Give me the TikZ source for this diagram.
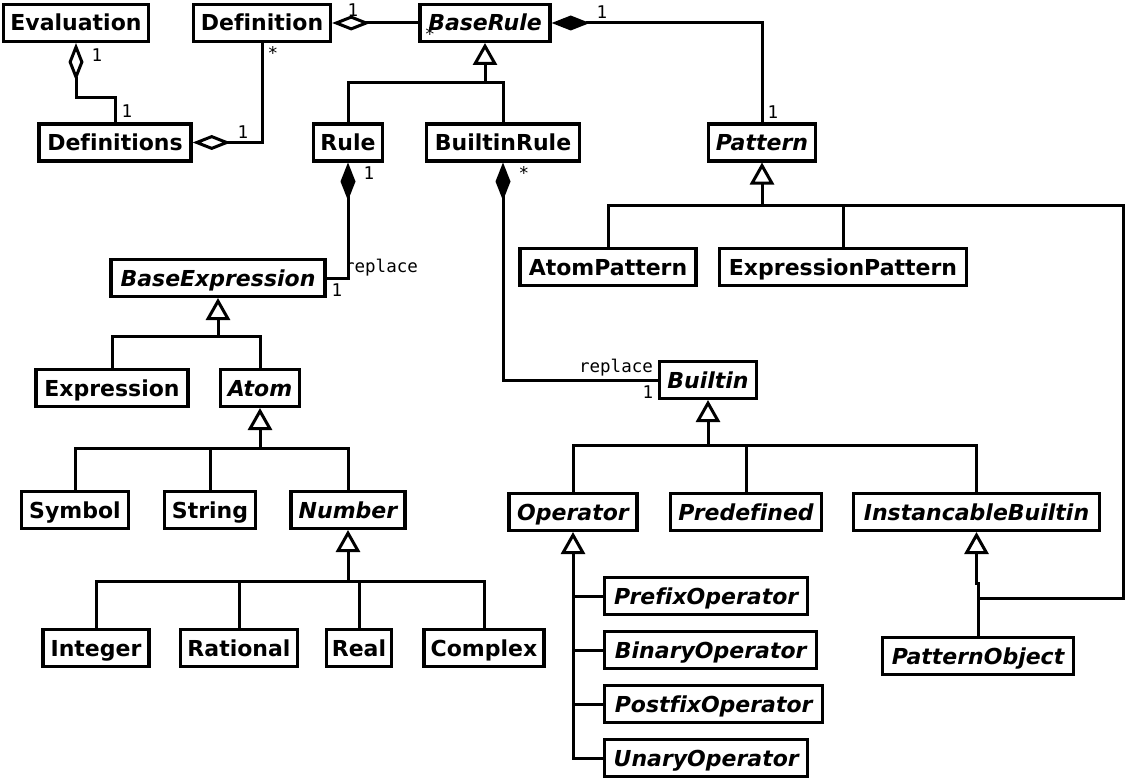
\documentclass[tikz,border=0pt]{standalone}
\usepackage{fontspec}
\setmainfont{DejaVu Sans}[Ligatures=CommonOff]
\newfontfamily\lblmono{DejaVu Sans Mono}
\usetikzlibrary{arrows.meta}
\newcommand\clsfont{\fontsize{22}{26}\selectfont\bfseries}
\newcommand\aclsfont{\fontsize{22}{26}\selectfont\bfseries\itshape}
\newcommand\lblfont{\fontsize{17.5}{19}\selectfont\lblmono}
\tikzset{
  cls/.style={draw, line width=3.4pt, font=\clsfont, inner xsep=3pt, inner ysep=0pt,
    minimum height=36.6pt, text height=16pt, text depth=0pt},
  acls/.style={cls, font=\aclsfont},
  conn/.style={line width=3pt},
  gen/.style={conn, -{Triangle[open, length=22pt, width=24pt]}},
  agg/.style={conn, -{Diamond[open, length=38pt, width=15pt]}},
  comp/.style={conn, -{Diamond[length=38pt, width=15pt]}},
  lbl/.style={font=\lblfont, inner sep=0pt},
}
\begin{document}
\begin{tikzpicture}[x=1pt, y=-1pt]
\useasboundingbox (0,0) rectangle (1127,781);
% classes
\node[cls, minimum width=145pt] (eval) at (76,23) {Evaluation};
\node[cls, minimum width=137pt] (def) at (262,23) {Definition};
\node[acls, minimum width=130pt] (brule) at (485,23) {BaseRule};
\node[cls, minimum width=152pt] (defs) at (115,142.5) {Definitions};
\node[cls, minimum width=69pt] (rule) at (348,142.5) {Rule};
\node[cls, minimum width=153pt] (birule) at (503,142.5) {BuiltinRule};
\node[acls, minimum width=107pt] (pat) at (762,142.5) {Pattern};
\node[cls, minimum width=176pt] (apat) at (608,267) {AtomPattern};
\node[cls, minimum width=247pt] (epat) at (843,267) {ExpressionPattern};
\node[acls, minimum width=214pt] (bexpr) at (218,278) {BaseExpression};
\node[cls, minimum width=152pt] (expr) at (112,388) {Expression};
\node[acls, minimum width=79pt] (atom) at (260,388) {Atom};
\node[acls, minimum width=97pt] (bi) at (708,380) {Builtin};
\node[cls, minimum width=107pt] (sym) at (75,510) {Symbol};
\node[cls, minimum width=91pt] (str) at (210,510) {String};
\node[acls, minimum width=114pt] (num) at (348,510) {Number};
\node[acls, minimum width=128pt] (op) at (573,512) {Operator};
\node[acls, minimum width=151pt] (pre) at (746,512) {Predefined};
\node[acls, minimum width=246pt] (ib) at (976.5,512) {InstancableBuiltin};
\node[cls, minimum width=106pt] (int) at (96,648) {Integer};
\node[cls, minimum width=117pt] (rat) at (239,648) {Rational};
\node[cls, minimum width=65pt] (real) at (359,648) {Real};
\node[cls, minimum width=120pt] (cpx) at (484,648) {Complex};
\node[acls, minimum width=203pt, anchor=west] (pfx) at (603,596) {PrefixOperator};
\node[acls, minimum width=212pt, anchor=west] (bin) at (603,650) {BinaryOperator};
\node[acls, minimum width=218pt, anchor=west] (post) at (603,704) {PostfixOperator};
\node[acls, minimum width=203pt, anchor=west] (un) at (603,758) {UnaryOperator};
\node[acls, minimum width=191pt] (pobj) at (978,656) {PatternObject};
% junctions
\coordinate (jBR) at (485,83);
\coordinate (jP) at (762,205);
\coordinate (jR) at (1123,598);
\coordinate (jBE) at (218,336);
\coordinate (jA) at (260,448);
\coordinate (jN) at (348,581);
\coordinate (jB) at (708,445);
% associations
\draw[agg] (defs.north) -- ++(0,-25) -| (eval.south);
\draw[agg] (def.south) |- (defs.east);
\draw[agg] (brule.west) -- (def.east);
\draw[comp] (pat.north) |- (brule.east);
\draw[comp] (bexpr.east) -| (rule.south);
\draw[comp] (bi.west) -| (birule.south);
% generalizations
\draw[gen] (jBR) -- (brule.south);
\draw[conn] (rule.north) |- (jBR) -| (birule.north);
\draw[gen] (jP) -- (pat.south);
\draw[conn] (apat.north) |- (jP) -| (epat.north);
\draw[conn] (jP) -| (jR) -| (pobj.north);
\draw[gen] (pobj.north) -- ++(0,-53) -| (ib.south);
\draw[gen] (jBE) -- (bexpr.south);
\draw[conn] (expr.north) |- (jBE) -| (atom.north);
\draw[gen] (jA) -- (atom.south);
\draw[conn] (sym.north) |- (jA) -| (num.north);
\draw[conn] (str.north) -- (str.north |- jA);
\draw[gen] (jN) -- (num.south);
\draw[conn] (int.north) |- (jN) -| (cpx.north);
\draw[conn] (rat.north) -- (rat.north |- jN);
\draw[conn] (real.north) -- (real.north |- jN);
\draw[gen] (jB) -- (bi.south);
\draw[conn] (op.north) |- (jB) -| (ib.north);
\draw[conn] (pre.north) -- (pre.north |- jB);
\draw[gen] (un.west) -| (op.south);
\draw[conn] (pfx.west) -- (op.south |- pfx.west);
\draw[conn] (bin.west) -- (op.south |- bin.west);
\draw[conn] (post.west) -- (op.south |- post.west);
% labels
\node[lbl] (l1) at (97,55) {1};
\node[lbl] (l2) at (127,111) {1};
\node[lbl] (l3) at (243,132) {1};
\node[lbl] (l4) at (273,53) {*};
\node[lbl] (l5) at (353,10) {1};
\node[lbl] (l6) at (430,34) {*};
\node[lbl] (l7) at (602,12) {1};
\node[lbl] (l8) at (773,112) {1};
\node[lbl] (l9) at (369,173) {1};
\node[lbl] (l10) at (381,268) {replace};
\node[lbl] (l11) at (337,290) {1};
\node[lbl] (l12) at (524,173) {*};
\node[lbl] (l13) at (616,368) {replace};
\node[lbl] (l14) at (648,392) {1};
\end{tikzpicture}
\end{document}
